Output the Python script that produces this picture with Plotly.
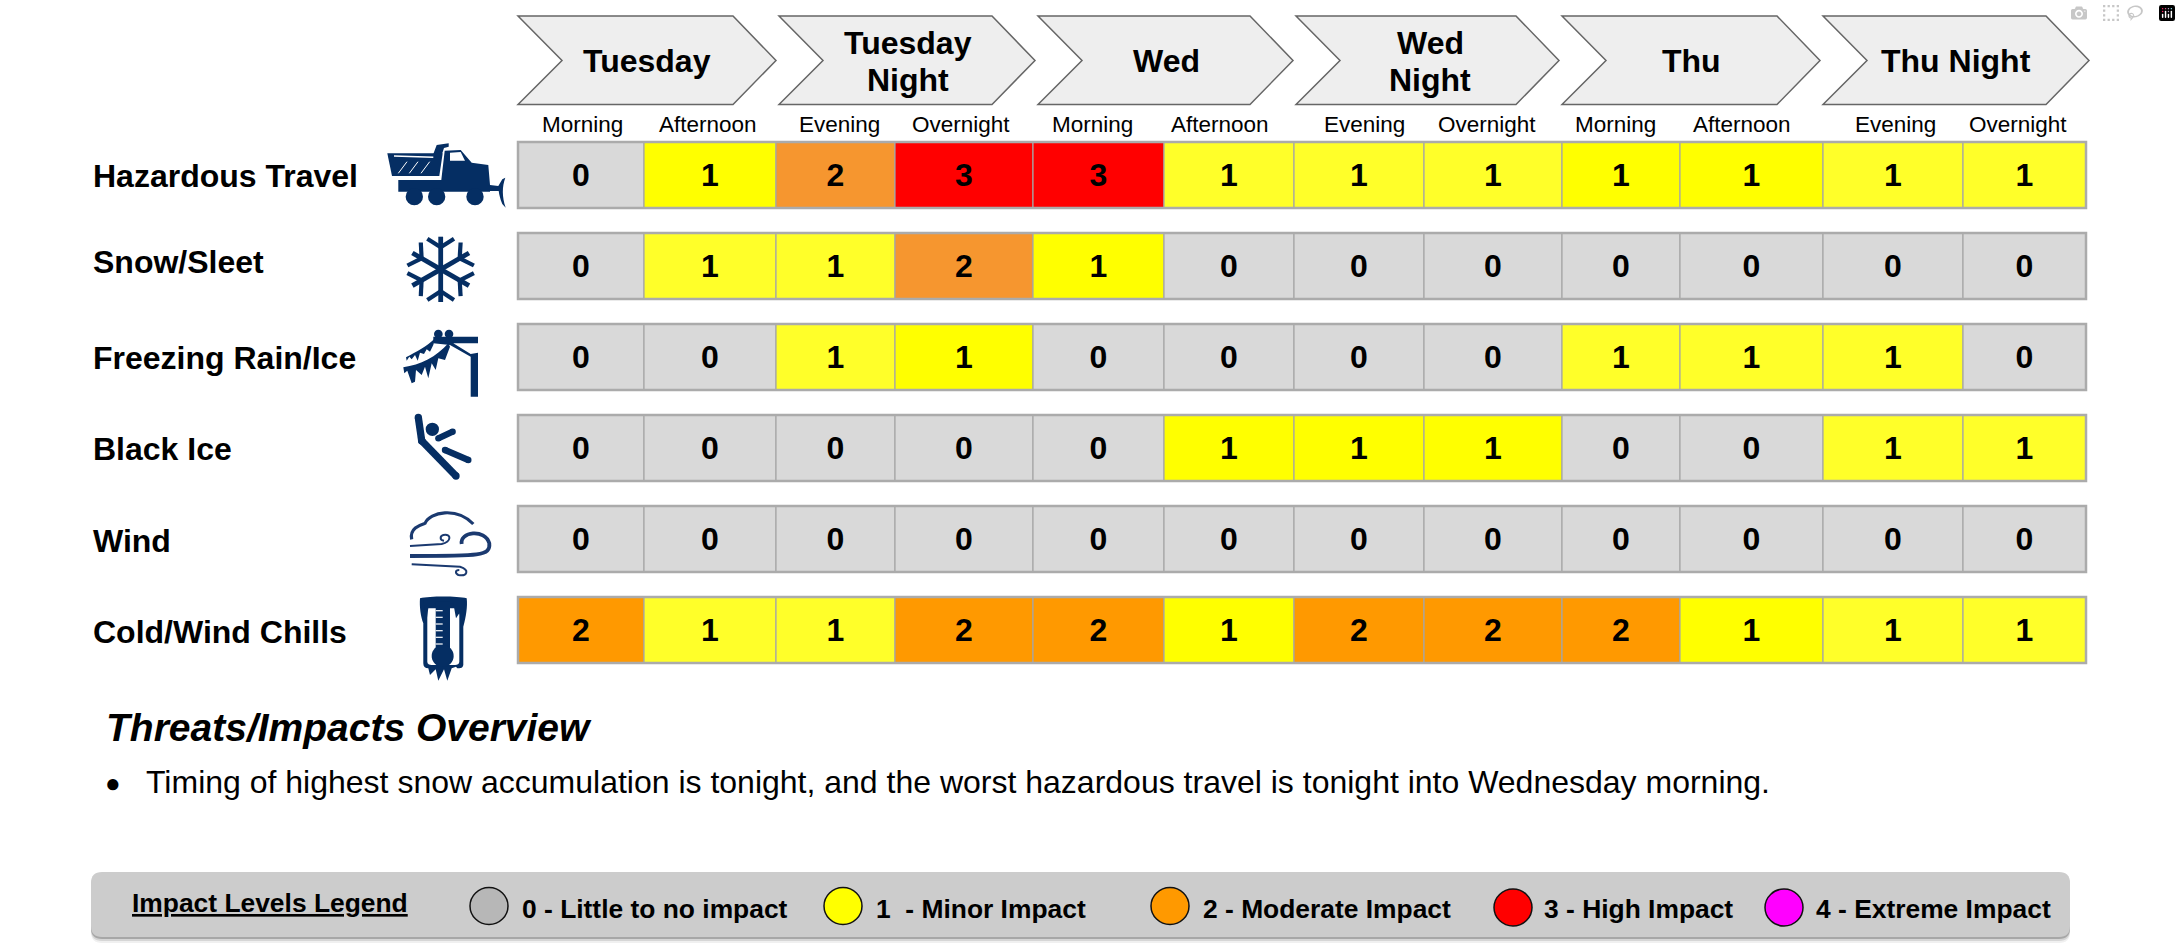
"""Winter weather impact table: six threats across twelve forecast periods."""

from __future__ import annotations

import math
import re

import plotly.graph_objects as go

W, H = 2181, 951
FONT = "Liberation Sans"
NAVY = "#052e63"

THREATS = ["Hazardous Travel", "Snow/Sleet", "Freezing Rain/Ice", "Black Ice", "Wind", "Cold/Wind Chills"]
DAYS = ["Tuesday", "Tuesday<br>Night", "Wed", "Wed<br>Night", "Thu", "Thu Night"]
PERIODS = ["Morning", "Afternoon", "Evening", "Overnight"] * 3
PERIODS = [PERIODS[i % 4] for i in range(12)]

HAZARD = [0, 1, 2, 3, 3, 1, 1, 1, 1, 1, 1, 1]
SNOW = [0, 1, 1, 2, 1, 0, 0, 0, 0, 0, 0, 0]
ICE = [0, 0, 1, 1, 0, 0, 0, 0, 1, 1, 1, 0]
BLACK_ICE = [0, 0, 0, 0, 0, 1, 1, 1, 0, 0, 1, 1]
WIND = [0, 0, 0, 0, 0, 0, 0, 0, 0, 0, 0, 0]
COLD = [2, 1, 1, 2, 2, 1, 2, 2, 2, 1, 1, 1]
VALUES = [HAZARD, SNOW, ICE, BLACK_ICE, WIND, COLD]

# the source slide mixes two yellows and two oranges, so shades are per cell
HAZARD_SHADE = "g Y p r r y y y Y Y y y".split()
SNOW_SHADE = "g y y p Y g g g g g g g".split()
ICE_SHADE = "g g y Y g g g g y y y g".split()
BLACK_ICE_SHADE = "g g g g g Y Y Y g g y y".split()
WIND_SHADE = "g g g g g g g g g g g g".split()
COLD_SHADE = "o y y o o Y o o o Y y y".split()
SHADES = [HAZARD_SHADE, SNOW_SHADE, ICE_SHADE, BLACK_ICE_SHADE, WIND_SHADE, COLD_SHADE]
SHADE_COLORS = {
    "g": "#d9d9d9",
    "y": "#ffff29",
    "Y": "#ffff00",
    "p": "#f6962f",
    "o": "#ff9900",
    "r": "#ff0000",
}

LEGEND_LABELS = [
    "0 - Little to no impact",
    "1  - Minor Impact",
    "2 - Moderate Impact",
    "3 - High Impact",
    "4 - Extreme Impact",
]
LEGEND_COLORS = ["#b7b7b7", "#ffff00", "#ff9900", "#ff0000", "#ff00ff"]

HEADING = "Threats/Impacts Overview"
BULLET = "Timing of highest snow accumulation is tonight, and the worst hazardous travel is tonight into Wednesday morning."

# layout, in picture pixels
COL_EDGES = [518, 644, 776, 895, 1033, 1164, 1294, 1424, 1562, 1680, 1823, 1963, 2086]
ROW_TOPS = [142, 233, 324, 415, 506, 597]
ROW_H = 66
LABEL_Y = [176, 262, 358, 449, 541, 632]
DAY_EDGES = [518, 779, 1038, 1296, 1562, 1823]
DAY_TEXT_X = [647, 908, 1166, 1430, 1691, 1956]
PERIOD_X = [582, 708, 839, 961, 1092, 1220, 1364, 1487, 1615, 1742, 1895, 2018]
LEGEND_CIRCLE_X = [489, 843, 1170, 1513, 1784]
LEGEND_CIRCLE_Y = [906, 906, 906, 907.5, 907.5]
LEGEND_TEXT_X = [520, 874, 1201, 1542, 1814]

shapes = []
annotations = []


def text(x, y, s, size, bold=False, italic=False, anchor="left"):
    if bold:
        s = f"<b>{s}</b>"
    if italic:
        s = f"<i>{s}</i>"
    annotations.append(
        {
            "x": x,
            "y": y,
            "text": s,
            "showarrow": False,
            "xanchor": anchor,
            "yanchor": "middle",
            "font": {"family": FONT, "size": size, "color": "#000000"},
        }
    )


def zoomed(d, ox, oy):
    """Scale a path drawn on a 3x crop back into picture pixels."""
    def repl(m):
        return f"{ox + float(m.group(1)) / 3:.1f},{oy + float(m.group(2)) / 3:.1f}"

    return re.sub(r"(-?[\d.]+),(-?[\d.]+)", repl, d)


def fill(d, ox, oy, color=NAVY):
    shapes.append(
        {
            "type": "path",
            "path": zoomed(d, ox, oy),
            "fillcolor": color,
            "line": {"width": 0},
            "xref": "x",
            "yref": "y",
        }
    )


def stroke(d, ox, oy, width, color=NAVY):
    shapes.append(
        {
            "type": "path",
            "path": zoomed(d, ox, oy),
            "fillcolor": "rgba(0,0,0,0)",
            "line": {"color": color, "width": width},
            "xref": "x",
            "yref": "y",
        }
    )


def dot(cx, cy, r, ox, oy, color=NAVY):
    shapes.append(
        {
            "type": "circle",
            "x0": ox + (cx - r) / 3,
            "x1": ox + (cx + r) / 3,
            "y0": oy + (cy - r) / 3,
            "y1": oy + (cy + r) / 3,
            "fillcolor": color,
            "line": {"width": 0},
            "xref": "x",
            "yref": "y",
        }
    )


def limb(x0, y0, x1, y1, w, ox, oy):
    stroke(f"M{x0},{y0} L{x1},{y1}", ox, oy, w / 3)
    dot(x0, y0, w / 2, ox, oy)
    dot(x1, y1, w / 2, ox, oy)


def rounded(x0, y0, x1, y1, r):
    return (
        f"M{x0 + r},{y0} L{x1 - r},{y0} Q{x1},{y0} {x1},{y0 + r} L{x1},{y1 - r} "
        f"Q{x1},{y1} {x1 - r},{y1} L{x0 + r},{y1} Q{x0},{y1} {x0},{y1 - r} "
        f"L{x0},{y0 + r} Q{x0},{y0} {x0 + r},{y0} Z"
    )


def draw_truck(ox=370, oy=130):
    fill("M52,70 L218,70 L208,138 L66,138 Z", ox, oy)
    fill("M190,72 L200,45 L236,40 L236,50 L222,54 L216,72 Z", ox, oy)
    fill("M224,62 L272,60 L305,98 L355,105 L360,165 L360,185 L85,185 L85,150 L214,150 Z", ox, oy)
    fill("M240,68 L272,66 L285,92 L240,92 Z", ox, oy, "#ffffff")
    stroke("M72,78 L190,82", ox, oy, 1.5, "#ffffff")
    for x in (85, 118, 153):
        stroke(f"M{x},130 L{x + 26},95", ox, oy, 1, "#ffffff")
    for cx in (133, 200, 315):
        dot(cx, 200, 26, ox, oy)
    fill("M360,165 L385,168 L397,148 L406,143 C396,170 396,200 407,233 L397,222 C390,205 388,195 386,183 L360,183 Z", ox, oy)


def draw_snowflake(ox=370, oy=130, cx=212, cy=418):
    for k in range(6):
        a = math.radians(60 * k)
        ux, uy = math.sin(a), -math.cos(a)
        vx, vy = math.cos(a), math.sin(a)

        def pt(along, side):
            return f"{cx + ux * along + vx * side:.1f},{cy + uy * along + vy * side:.1f}"

        stroke(f"M{pt(0, 0)} L{pt(98, 0)}", ox, oy, 4.8)
        stroke(f"M{pt(66, 0)} L{pt(92, 40)}", ox, oy, 4.2)
        stroke(f"M{pt(66, 0)} L{pt(92, -40)}", ox, oy, 4.2)


def draw_ice(ox=370, oy=130):
    fill("M190,620 L324,620 L324,640 L250,640 L302,672 L324,668 L324,800 L302,800 L302,680 L240,645 L190,640 Z", ox, oy)
    dot(205, 612, 13, ox, oy)
    dot(237, 612, 13, ox, oy)
    fill("M195,625 C170,650 140,665 108,682 L110,692 L118,680 L125,688 L135,675 L143,692 L150,668 L162,672 L170,658 L180,665 L190,645 Z", ox, oy)
    fill("M235,640 C200,680 150,705 100,712 L103,730 L112,722 L125,760 L135,755 L138,720 L155,735 L165,710 L175,745 L185,700 L197,720 L205,685 L225,690 L240,650 Z", ox, oy)


def draw_faller(ox=370, oy=400):
    dot(187, 88, 20, ox, oy)
    limb(145, 52, 155, 122, 22, ox, oy)
    limb(155, 122, 258, 228, 22, ox, oy)
    limb(205, 115, 248, 95, 19, ox, oy)
    limb(225, 150, 295, 180, 19, ox, oy)


def draw_wind(ox=370, oy=400):
    color = "#1b3a70"
    stroke("M125,418 C118,385 150,375 165,370 C180,335 260,320 310,372", ox, oy, 3.2, color)
    stroke("M275,432 C268,395 345,385 358,430 C362,468 330,468 120,468", ox, oy, 3.8, color)
    stroke("M120,438 L215,432 C245,425 245,400 220,405 C210,408 208,420 222,422", ox, oy, 2, color)
    stroke("M125,493 L270,500 C300,510 292,530 265,525 C255,520 255,510 268,510", ox, oy, 2, color)


def draw_thermometer(ox=370, oy=400):
    fill("M150,595 C180,588 260,588 290,595 C293,620 288,650 280,680 L280,795 C278,805 270,805 262,805 L258,800 L245,805 L232,842 L222,808 L205,842 L197,808 L180,825 L175,805 C165,805 160,800 160,790 L160,670 C152,650 148,620 150,595 Z", ox, oy)
    fill("M172,625 L268,625 L268,785 C268,792 262,795 255,795 L185,795 C178,795 172,792 172,785 Z", ox, oy, "#ffffff")
    fill("M160,600 L285,600 L280,670 L268,640 L258,655 L250,610 L195,610 L175,625 L170,660 Z", ox, oy)
    fill("M197,605 L240,605 L240,750 L197,750 Z", ox, oy)
    dot(218, 768, 33, ox, oy)
    for y in (632, 652, 672, 692, 712, 732):
        stroke(f"M197,{y} L218,{y}", ox, oy, 1.2, "#ffffff")


fig = go.Figure()

# one bar trace per forecast period, one bar per threat
for col in range(len(PERIODS)):
    fig.add_bar(
        y=[top + ROW_H / 2 for top in ROW_TOPS],
        x=[COL_EDGES[col + 1] - COL_EDGES[col]] * len(THREATS),
        base=[COL_EDGES[col]] * len(THREATS),
        width=[ROW_H] * len(THREATS),
        orientation="h",
        marker={
            "color": [SHADE_COLORS[row[col]] for row in SHADES],
            "line": {"color": "#a6a6a6", "width": 1.2},
        },
        text=[str(row[col]) for row in VALUES],
        textposition="inside",
        insidetextanchor="middle",
        textangle=0,
        constraintext="none",
        textfont={"family": FONT, "size": 32, "color": "#000000", "weight": "bold"},
        showlegend=False,
        hoverinfo="skip",
    )

for top in ROW_TOPS:
    shapes.append(
        {
            "type": "rect",
            "x0": COL_EDGES[0],
            "x1": COL_EDGES[-1],
            "y0": top,
            "y1": top + ROW_H,
            "line": {"color": "#ababab", "width": 2.5},
            "xref": "x",
            "yref": "y",
        }
    )

# day chevrons
for i, left in enumerate(DAY_EDGES):
    right = (DAY_EDGES[i + 1] - 3) if i + 1 < len(DAY_EDGES) else 2089
    mid = 60.5
    shapes.append(
        {
            "type": "path",
            "path": f"M{left},16 L{right - 43},16 L{right},{mid} L{right - 43},104.5 L{left},104.5 L{left + 44},{mid} Z",
            "fillcolor": "#eeeeee",
            "line": {"color": "#666666", "width": 1.5},
            "xref": "x",
            "yref": "y",
        }
    )
    lines = DAYS[i].split("<br>")
    if len(lines) == 2:
        text(DAY_TEXT_X[i], 43, lines[0], 32, bold=True, anchor="center")
        text(DAY_TEXT_X[i], 80, lines[1], 32, bold=True, anchor="center")
    else:
        text(DAY_TEXT_X[i], 61, lines[0], 32, bold=True, anchor="center")

for x, label in zip(PERIOD_X, PERIODS):
    text(x, 124, label, 22.5, anchor="center")

for y, label in zip(LABEL_Y, THREATS):
    text(91, y, label, 32, bold=True)

draw_truck()
draw_snowflake()
draw_ice()
draw_faller()
draw_wind()
draw_thermometer()

text(104, 727, HEADING, 39, bold=True, italic=True)
text(103, 783, "●", 26)
text(144, 782, BULLET, 32)

# legend panel with a soft drop shadow
for offset, alpha in ((6, 0.08), (4, 0.14), (2, 0.3)):
    shapes.append(
        {
            "type": "path",
            "path": rounded(91, 872 + offset, 2070, 937 + offset, 11),
            "fillcolor": f"rgba(60,60,60,{alpha})",
            "line": {"width": 0},
            "xref": "x",
            "yref": "y",
        }
    )
shapes.append(
    {
        "type": "path",
        "path": rounded(91, 872, 2070, 937, 11),
        "fillcolor": "#cccccc",
        "line": {"width": 0},
        "xref": "x",
        "yref": "y",
    }
)
text(130, 903, "<u>Impact Levels Legend</u>", 26.4, bold=True)
for cx, cy, tx, label, color in zip(LEGEND_CIRCLE_X, LEGEND_CIRCLE_Y, LEGEND_TEXT_X, LEGEND_LABELS, LEGEND_COLORS):
    shapes.append(
        {
            "type": "circle",
            "x0": cx - 19,
            "x1": cx + 19,
            "y0": cy - 18.5,
            "y1": cy + 18.5,
            "fillcolor": color,
            "line": {"color": "#111111", "width": 1.5},
            "xref": "x",
            "yref": "y",
        }
    )
    text(tx, 909, label, 26.4, bold=True)

fig.update_layout(
    width=W,
    height=H,
    margin={"l": 0, "r": 0, "t": 0, "b": 0},
    paper_bgcolor="#ffffff",
    plot_bgcolor="#ffffff",
    barmode="overlay",
    xaxis={"range": [0, W], "visible": False, "fixedrange": True},
    yaxis={"range": [H, 0], "visible": False, "fixedrange": True},
    shapes=shapes,
    annotations=annotations,
)

fig.write_html("out.html", post_script="document.body.style.margin = '0';")
